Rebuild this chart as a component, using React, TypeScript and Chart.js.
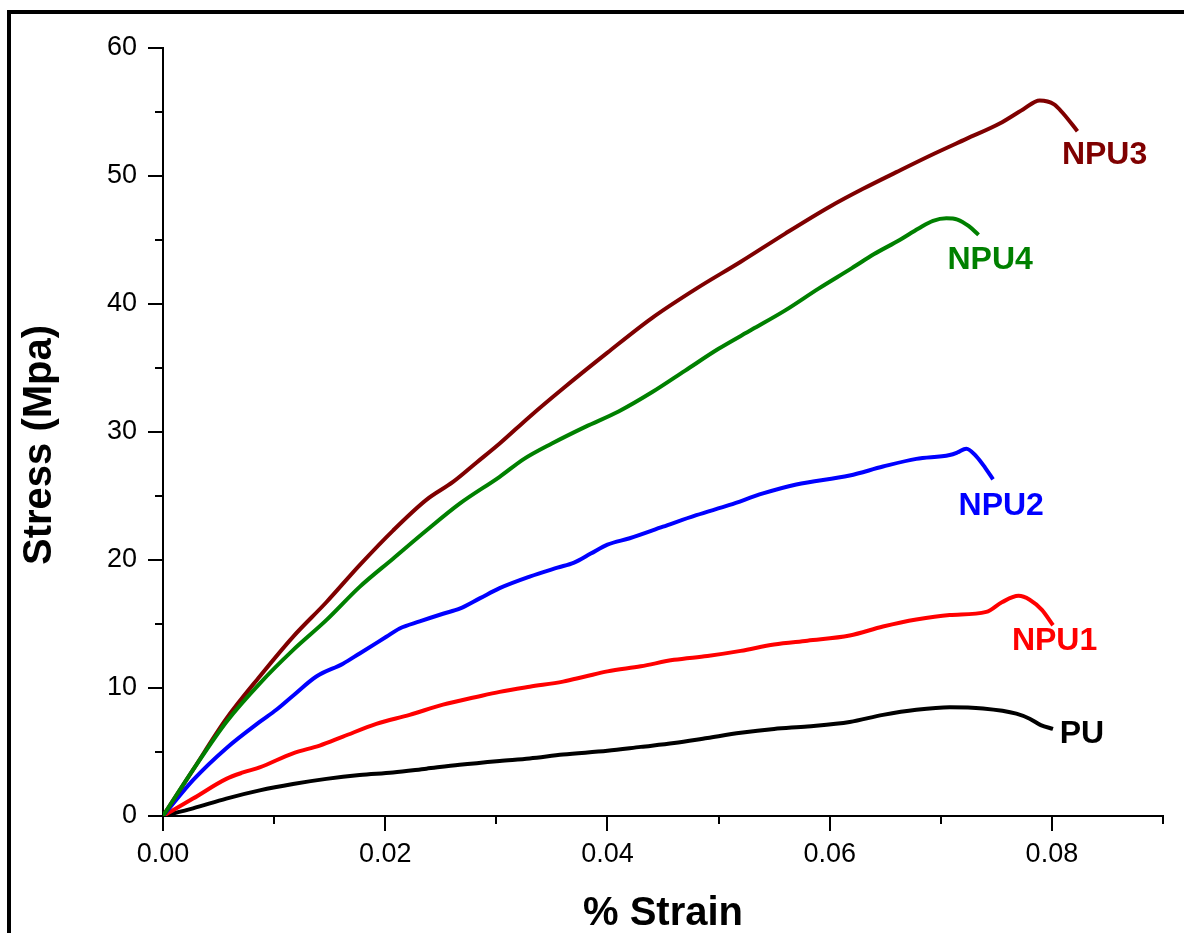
import React, { useEffect, useRef } from 'react';
import { Chart, registerables } from 'chart.js';

Chart.register(...registerables);

const FONT = '"Liberation Sans", Arial, Helvetica, sans-serif';

// ---- data (strain, stress in MPa) ----
const puStrain = [0, 0.0027, 0.0057, 0.0087, 0.0117, 0.0147, 0.0177, 0.0207, 0.0237, 0.0267, 0.0303, 0.033, 0.036, 0.04, 0.043, 0.046, 0.049, 0.052, 0.055, 0.058, 0.0618, 0.0648, 0.0678, 0.0708, 0.0738, 0.0768, 0.078, 0.079, 0.0801];
const puStress = [0, 0.6, 1.36, 2.0, 2.5, 2.9, 3.2, 3.4, 3.7, 4.0, 4.3, 4.5, 4.8, 5.1, 5.4, 5.7, 6.1, 6.5, 6.8, 7.0, 7.35, 7.9, 8.3, 8.5, 8.4, 8.0, 7.6, 7.1, 6.8];

const npu1Strain = [0, 0.0027, 0.0057, 0.0072, 0.0087, 0.0117, 0.0141, 0.0162, 0.0192, 0.0222, 0.0252, 0.0282, 0.0303, 0.033, 0.036, 0.038, 0.04, 0.043, 0.046, 0.049, 0.052, 0.055, 0.058, 0.0618, 0.0648, 0.0678, 0.0708, 0.0741, 0.0755, 0.077, 0.078, 0.0791, 0.0801];
const npu1Stress = [0, 1.36, 2.9, 3.4, 3.8, 4.9, 5.5, 6.2, 7.2, 7.9, 8.7, 9.3, 9.7, 10.1, 10.5, 10.9, 11.3, 11.7, 12.2, 12.5, 12.9, 13.4, 13.7, 14.1, 14.8, 15.35, 15.7, 15.95, 16.7, 17.2, 16.9, 16.1, 14.9];

const npu2Strain = [0, 0.0027, 0.0057, 0.0087, 0.0102, 0.0117, 0.0138, 0.0162, 0.0177, 0.0201, 0.0213, 0.0231, 0.0252, 0.0267, 0.0285, 0.0303, 0.033, 0.0355, 0.037, 0.0385, 0.04, 0.042, 0.045, 0.048, 0.051, 0.054, 0.057, 0.0618, 0.0648, 0.0678, 0.0708, 0.0715, 0.0723, 0.0732, 0.074, 0.0747];
const npu2Stress = [0, 2.8, 5.3, 7.35, 8.3, 9.4, 10.9, 11.9, 12.7, 14.0, 14.65, 15.2, 15.8, 16.2, 17.0, 17.8, 18.7, 19.4, 19.8, 20.5, 21.2, 21.7, 22.6, 23.5, 24.3, 25.2, 25.9, 26.6, 27.3, 27.9, 28.2, 28.4, 28.7, 28.1, 27.2, 26.3];

const npu3Strain = [0, 0.0027, 0.0057, 0.0087, 0.0117, 0.0147, 0.0177, 0.0207, 0.0237, 0.0261, 0.0282, 0.0303, 0.033, 0.036, 0.04, 0.044, 0.048, 0.052, 0.056, 0.06, 0.063, 0.066, 0.0693, 0.0723, 0.0753, 0.0774, 0.0789, 0.0802, 0.081, 0.0823];
const npu3Stress = [0, 3.6, 7.6, 10.9, 14.0, 16.7, 19.6, 22.3, 24.7, 26.1, 27.6, 29.1, 31.2, 33.4, 36.2, 38.9, 41.2, 43.3, 45.5, 47.6, 49.0, 50.3, 51.7, 52.9, 54.1, 55.2, 55.9, 55.6, 54.9, 53.5];

const npu4Strain = [0, 0.0027, 0.0057, 0.0087, 0.0117, 0.0147, 0.0177, 0.0207, 0.0237, 0.0267, 0.0303, 0.0325, 0.035, 0.038, 0.041, 0.044, 0.047, 0.05, 0.053, 0.056, 0.059, 0.062, 0.064, 0.0663, 0.068, 0.0693, 0.0705, 0.0715, 0.0725, 0.0734];
const npu4Stress = [0, 3.6, 7.35, 10.35, 12.96, 15.3, 17.9, 20.1, 22.3, 24.4, 26.5, 27.9, 29.1, 30.4, 31.6, 33.1, 34.8, 36.5, 38.0, 39.5, 41.2, 42.8, 43.9, 45.0, 45.9, 46.5, 46.7, 46.6, 46.1, 45.4];

const seriesNames = ['PU', 'NPU1', 'NPU2', 'NPU3', 'NPU4'];
const seriesColors = ['#000000', '#ff0000', '#0000ff', '#7f0000', '#008000'];
// label anchor (left edge, baseline) in data units
const labelStrain = [0.0807, 0.0764, 0.0716, 0.0809, 0.0706];
const labelStress = [5.7, 12.95, 23.5, 50.9, 42.7];

const xTitle = '% Strain';
const yTitle = 'Stress (Mpa)';

const toPoints = (xs: number[], ys: number[]) => xs.map((x, i) => ({ x, y: ys[i] }));

const decorPlugin = {
  id: 'decor',
  afterDraw(chart: any) {
    const { ctx, chartArea, scales } = chart;
    const xs = scales.x;
    const ys = scales.y;
    ctx.save();
    ctx.strokeStyle = '#000';
    ctx.lineWidth = 2;
    ctx.lineCap = 'butt';
    xs.ticks.forEach((t: any) => {
      const px = Math.round(xs.getPixelForValue(t.value));
      const len = t.label !== '' ? 15 : 8;
      ctx.beginPath();
      ctx.moveTo(px, chartArea.bottom);
      ctx.lineTo(px, chartArea.bottom + len);
      ctx.stroke();
    });
    ys.ticks.forEach((t: any) => {
      const py = Math.round(ys.getPixelForValue(t.value));
      const len = t.label !== '' ? 15 : 8;
      ctx.beginPath();
      ctx.moveTo(chartArea.left, py);
      ctx.lineTo(chartArea.left - len, py);
      ctx.stroke();
    });
    ctx.font = `bold 32px ${FONT}`;
    ctx.textAlign = 'left';
    ctx.textBaseline = 'alphabetic';
    seriesNames.forEach((name, i) => {
      ctx.fillStyle = seriesColors[i];
      ctx.fillText(name, xs.getPixelForValue(labelStrain[i]), ys.getPixelForValue(labelStress[i]));
    });
    ctx.fillStyle = '#000';
    ctx.font = `bold 40px ${FONT}`;
    ctx.textAlign = 'center';
    ctx.fillText(xTitle, (chartArea.left + chartArea.right) / 2, 925);
    ctx.translate(51, 445);
    ctx.rotate(-Math.PI / 2);
    ctx.fillText(yTitle, 0, 0);
    ctx.restore();
  },
};

export default function App() {
  const ref = useRef<HTMLCanvasElement | null>(null);
  useEffect(() => {
    if (!ref.current) return;
    const xsArr = [puStrain, npu1Strain, npu2Strain, npu3Strain, npu4Strain];
    const ysArr = [puStress, npu1Stress, npu2Stress, npu3Stress, npu4Stress];
    const chart = new Chart(ref.current, {
      type: 'scatter',
      data: {
        datasets: seriesNames.map((name, i) => ({
          label: name,
          data: toPoints(xsArr[i], ysArr[i]),
          showLine: true,
          borderColor: seriesColors[i],
          backgroundColor: seriesColors[i],
          borderWidth: 4,
          pointRadius: 0,
          cubicInterpolationMode: 'monotone' as const,
          order: 4 - i,
        })),
      },
      plugins: [decorPlugin],
      options: {
        animation: false,
        responsive: false,
        devicePixelRatio: 1,
        layout: { padding: { left: 0, right: 21, top: 48, bottom: 0 } },
        plugins: { legend: { display: false }, tooltip: { enabled: false } },
        scales: {
          x: {
            type: 'linear',
            min: 0,
            max: 0.09,
            afterFit: (s: any) => { s.height = 117; },
            border: { display: true, color: '#000', width: 2 },
            grid: { display: true, drawOnChartArea: false, drawTicks: true, tickLength: 15, tickColor: 'rgba(0,0,0,0)' },
            ticks: {
              stepSize: 0.01,
              autoSkip: false,
              maxRotation: 0,
              padding: 7,
              color: '#000',
              font: { family: FONT, size: 27 },
              callback: (v: any) => {
                const r = Math.round(Number(v) * 100);
                return r % 2 === 0 && r < 9 ? (r / 100).toFixed(2) : '';
              },
            },
          },
          y: {
            type: 'linear',
            min: 0,
            max: 60,
            afterFit: (s: any) => { s.width = 163; },
            border: { display: true, color: '#000', width: 2 },
            grid: { display: true, drawOnChartArea: false, drawTicks: true, tickLength: 15, tickColor: 'rgba(0,0,0,0)' },
            ticks: {
              stepSize: 5,
              autoSkip: false,
              padding: 11,
              color: '#000',
              font: { family: FONT, size: 27 },
              callback: (v: any) => (Number(v) % 10 === 0 ? String(v) : ''),
            },
          },
        },
      },
    });
    return () => chart.destroy();
  }, []);

  return (
    <div style={{ position: 'absolute', left: 0, top: 0, width: 1184, height: 933, overflow: 'hidden', background: '#fff' }}>
      <div style={{ position: 'absolute', left: 7, top: 10, width: 1200, height: 1000, borderLeft: '4px solid #000', borderTop: '4px solid #000' }} />
      <canvas ref={ref} width={1184} height={933} style={{ position: 'absolute', left: 0, top: 0, width: 1184, height: 933 }} />
    </div>
  );
}
